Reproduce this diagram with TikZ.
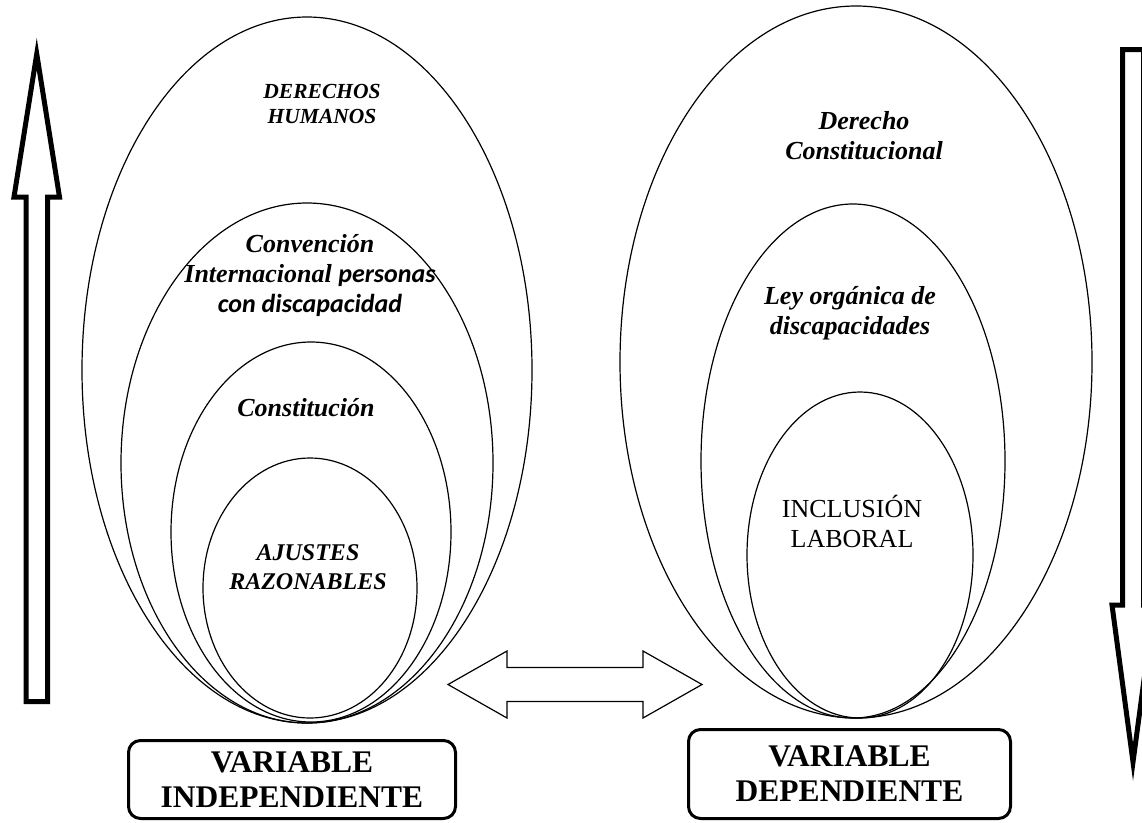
\documentclass[tikz,border=0pt]{standalone}
\usepackage{fontspec}
\setmainfont{Liberation Serif}
\newfontfamily\carl{Carlito}
\begin{document}
\begin{tikzpicture}[x=1pt,y=-1pt,
  oval/.style={draw=black,line width=1.2pt},
  bigarrow/.style={draw=black,line width=5pt,line join=miter,fill=white},
  dblarrow/.style={draw=black,line width=1.2pt,line join=miter,fill=white},
  txt/.style={align=center,inner sep=0pt,font=\fontsize{26}{30}\selectfont\bfseries\itshape},
  varbox/.style={draw=black,line width=3pt,rounded corners=12pt,align=center,inner sep=0pt,
     font=\fontsize{31.5}{35}\selectfont\bfseries}]
\useasboundingbox (0,0) rectangle (1142,822);
% left ellipses
\draw[oval] (307,370) ellipse [x radius=225pt, y radius=353pt];
\draw[oval] (307,463) ellipse [x radius=186pt, y radius=260pt];
\draw[oval] (311,532) ellipse [x radius=140pt, y radius=190pt];
\draw[oval] (310,588) ellipse [x radius=107pt, y radius=130pt];
% right ellipses
\draw[oval] (856,362) ellipse [x radius=236pt, y radius=356pt];
\draw[oval] (853,461) ellipse [x radius=152pt, y radius=257pt];
\draw[oval] (860,555) ellipse [x radius=113pt, y radius=163pt];
% texts left
\node[txt,font=\fontsize{21.5}{25}\selectfont\bfseries\itshape] (dh) at (322,104) {DERECHOS\\HUMANOS};
\node[txt] (conv) at (310,276) {Convención\\Internacional {\carl personas}\\{\carl con discapacidad}};
\node[txt] (const) at (306,408) {Constitución};
\node[txt,font=\fontsize{24}{29}\selectfont\bfseries\itshape] (aj) at (308,567) {AJUSTES\\RAZONABLES};
% texts right
\node[txt] (dc) at (864,136) {Derecho\\Constitucional};
\node[txt] (ley) at (850,313) {Ley orgánica de\\discapacidades};
\node[txt,font=\fontsize{26}{30}\selectfont] (incl) at (852,521) {INCLUSIÓN\\LABORAL};
% boxes
\node[varbox,minimum width=327pt,minimum height=78pt] (vi) at (292,779.5) {VARIABLE\\INDEPENDIENTE};
\node[varbox,minimum width=322pt,minimum height=89pt] (vd) at (849.5,774) {VARIABLE\\DEPENDIENTE};
% big arrows
\draw[bigarrow] (26,701.5) -- (26,197) -- (14,197) -- (36.75,54) -- (59.5,197) -- (47.5,197) -- (47.5,701.5) -- cycle;
\draw[bigarrow] (1122.5,49.5) -- (1143.5,49.5) -- (1143.5,605) -- (1154,605) -- (1133,762) -- (1112,605) -- (1122.5,605) -- cycle;
% double arrow
\draw[dblarrow] (448,684.5) -- (507,651) -- (507,667.5) -- (643,667.5) -- (643,651) -- (702,684.5) -- (643,718) -- (643,701.5) -- (507,701.5) -- (507,718) -- cycle;
\end{tikzpicture}
\end{document}
